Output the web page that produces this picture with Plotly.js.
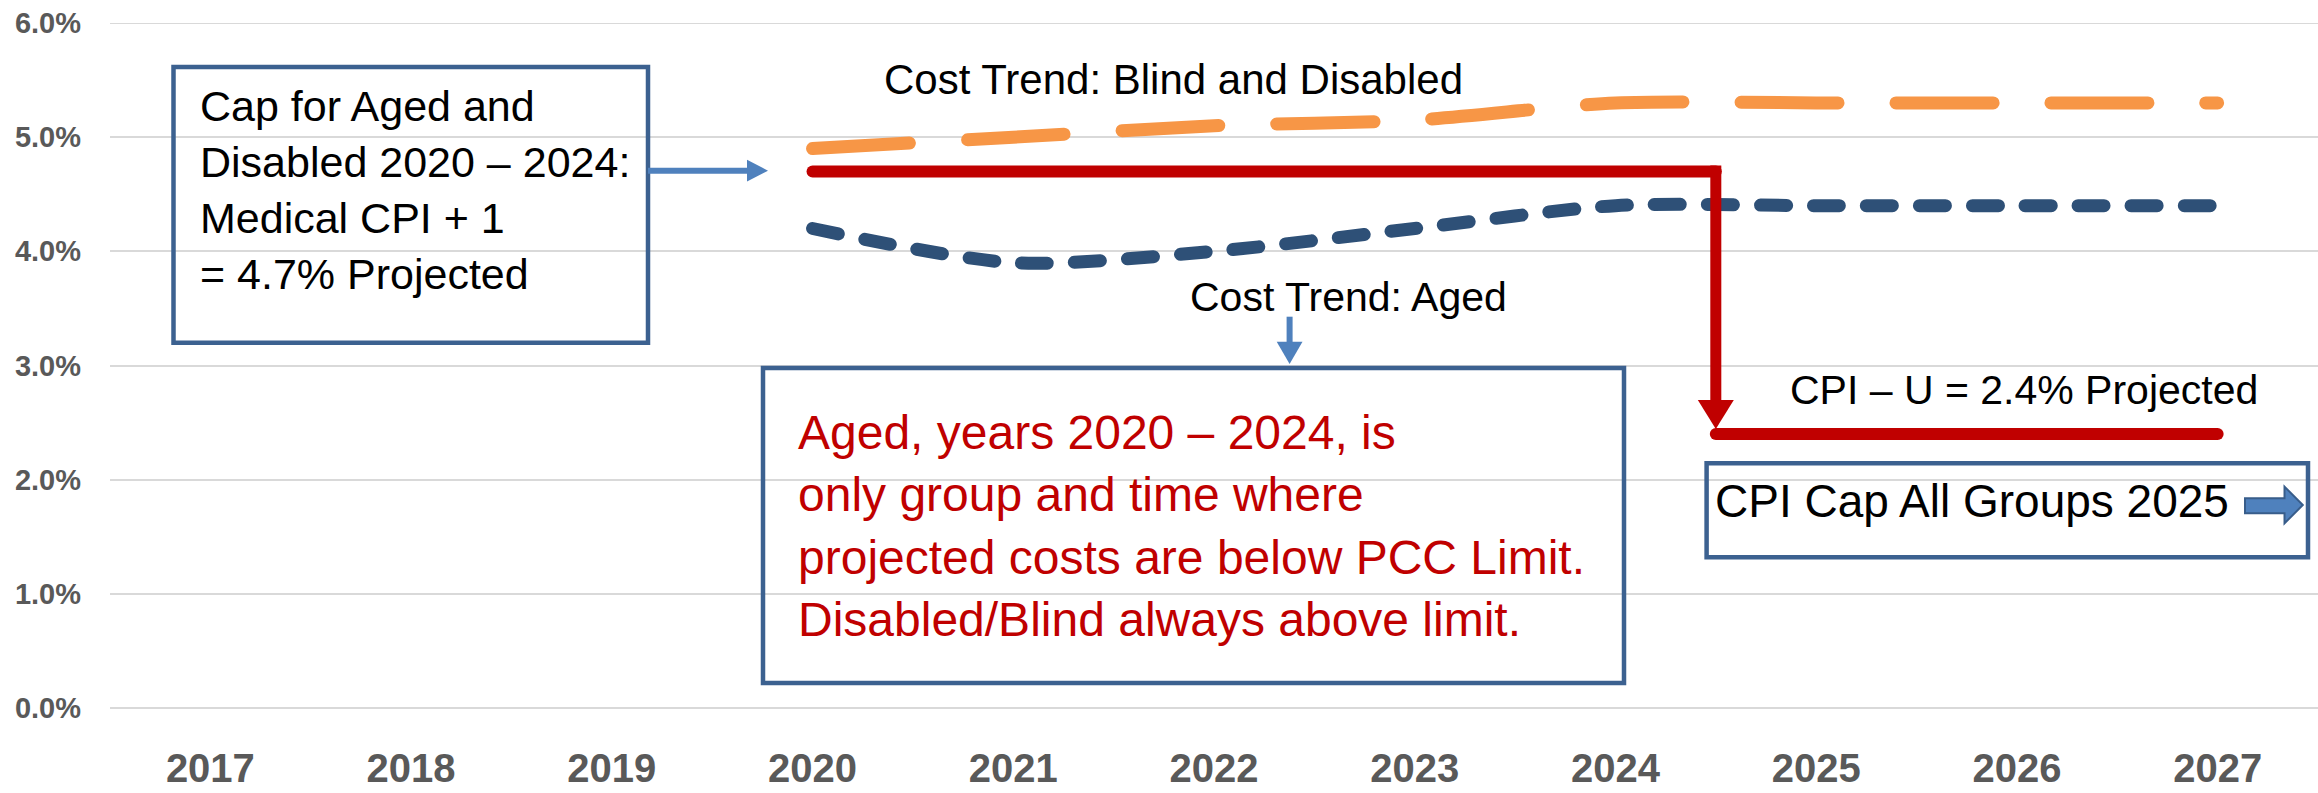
<!DOCTYPE html>
<html>
<head>
<meta charset="utf-8">
<script src="https://cdn.plot.ly/plotly-3.0.1.min.js"></script>
<style>
  html, body { margin: 0; padding: 0; background: #fff; }
  #chart { width: 2318px; height: 793px; }
  .js-line { stroke-linecap: round; stroke-linejoin: round; }
</style>
</head>
<body>
<div id="chart"></div>
<script>
// ---------- data ----------
const years = [2017, 2018, 2019, 2020, 2021, 2022, 2023, 2024, 2025, 2026, 2027];
const yearLabels = ['2017', '2018', '2019', '2020', '2021', '2022', '2023', '2024', '2025', '2026', '2027'];
const trendYears = [2020, 2021, 2022, 2023, 2024, 2025, 2026, 2027];
const costTrendBlindDisabled = [4.9, 5.0, 5.1, 5.15, 5.3, 5.3, 5.3, 5.3];
const costTrendAged = [4.2, 3.9, 4.0, 4.2, 4.4, 4.4, 4.4, 4.4];
const capSwitchYear = 2024.5;
const medicalCapYears = [2020, 2021, 2022, 2023, 2024, capSwitchYear];
const medicalCpiPlusOneCap = [4.7, 4.7, 4.7, 4.7, 4.7, 4.7];
const cpiYears = [capSwitchYear, 2025, 2026, 2027];
const cpiUCap = [2.4, 2.4, 2.4, 2.4];
const yTicks = [0, 1, 2, 3, 4, 5, 6];
const yTickLabels = ['0.0%', '1.0%', '2.0%', '3.0%', '4.0%', '5.0%', '6.0%'];

// ---------- geometry helpers (plot area in px) ----------
const W = 2318, H = 793;
const L = 110, R = 2318, T = 23, B = 708;
const X0 = 2016.5, X1 = 2027.5, Y0 = 0, Y1 = 6;
const px = v => (v - L) / (R - L);          // pixel x -> paper
const py = v => (B - v) / (B - T);          // pixel y -> paper
const dataToPxX = x => L + (x - X0) / (X1 - X0) * (R - L);
const dataToPxY = y => B - (y - Y0) / (Y1 - Y0) * (B - T);
const P = (x, y) => px(x).toFixed(5) + ',' + py(y).toFixed(5);

const RED = '#C00000', ORANGE = '#F79646', NAVY = '#2E5077';
const BOX = '#3C6190', ARROW = '#4F81BD', GRID = '#D9D9D9';
const FONT = 'Liberation Sans, Arial, sans-serif';

const traces = [
  { x: trendYears, y: costTrendBlindDisabled, type: 'scatter', mode: 'lines',
    line: { color: ORANGE, width: 13, dash: '97px,58px', shape: 'spline', smoothing: 0.8 },
    hoverinfo: 'skip' },
  { x: trendYears, y: costTrendAged, type: 'scatter', mode: 'lines',
    line: { color: NAVY, width: 13, dash: '26px,27px', shape: 'spline', smoothing: 0.8 },
    hoverinfo: 'skip' },
  { x: medicalCapYears, y: medicalCpiPlusOneCap, type: 'scatter', mode: 'lines',
    line: { color: RED, width: 12 }, hoverinfo: 'skip' },
  { x: cpiYears, y: cpiUCap, type: 'scatter', mode: 'lines',
    line: { color: RED, width: 12 }, hoverinfo: 'skip' }
];

// red step-down connector with arrowhead
const sx = dataToPxX(capSwitchYear);
const topY = dataToPxY(medicalCpiPlusOneCap[medicalCpiPlusOneCap.length - 1]) - 6;
const tipY = dataToPxY(cpiUCap[0]) - 5;
const baseY = tipY - 29;

const shapes = [
  // top gridline (6.0%) drawn explicitly at the plot edge
  { type: 'line', xref: 'paper', yref: 'y', x0: 0, x1: 1, y0: Y1, y1: Y1,
    line: { color: GRID, width: 2 }, layer: 'below' },
  // boxes
  { type: 'rect', xref: 'paper', yref: 'paper', x0: px(173.5), x1: px(648), y0: py(342.7), y1: py(67),
    line: { color: BOX, width: 4.5 }, fillcolor: 'rgba(0,0,0,0)' },
  { type: 'rect', xref: 'paper', yref: 'paper', x0: px(763), x1: px(1624), y0: py(683), y1: py(368),
    line: { color: BOX, width: 4.5 }, fillcolor: 'rgba(0,0,0,0)' },
  { type: 'rect', xref: 'paper', yref: 'paper', x0: px(1706.6), x1: px(2308), y0: py(557.3), y1: py(463.3),
    line: { color: BOX, width: 4.5 }, fillcolor: 'rgba(0,0,0,0)' },
  // arrow from box 1
  { type: 'line', xref: 'paper', yref: 'paper', x0: px(648), x1: px(749), y0: py(170.7), y1: py(170.7),
    line: { color: ARROW, width: 6 } },
  { type: 'path', xref: 'paper', yref: 'paper',
    path: 'M' + P(747, 159.8) + 'L' + P(768, 170.7) + 'L' + P(747, 181.6) + 'Z',
    fillcolor: ARROW, line: { width: 0 } },
  // arrow under "Cost Trend: Aged"
  { type: 'line', xref: 'paper', yref: 'paper', x0: px(1289.6), x1: px(1289.6), y0: py(316.7), y1: py(343),
    line: { color: ARROW, width: 6 } },
  { type: 'path', xref: 'paper', yref: 'paper',
    path: 'M' + P(1276.7, 341.7) + 'L' + P(1302.5, 341.7) + 'L' + P(1289.6, 364) + 'Z',
    fillcolor: ARROW, line: { width: 0 } },
  // red vertical connector + head
  { type: 'path', xref: 'paper', yref: 'paper',
    path: 'M' + P(sx, topY) + 'L' + P(sx, baseY + 1),
    line: { color: RED, width: 11 } },
  { type: 'path', xref: 'paper', yref: 'paper',
    path: 'M' + P(sx - 18, baseY) + 'L' + P(sx + 18, baseY) + 'L' + P(sx, tipY) + 'Z',
    fillcolor: RED, line: { width: 0 } },
  // block arrow in CPI box
  { type: 'path', xref: 'paper', yref: 'paper',
    path: 'M' + P(2245, 498.3) + 'L' + P(2284.5, 498.3) + 'L' + P(2284.5, 486.7) + 'L' + P(2302.8, 505) +
          'L' + P(2284.5, 523.3) + 'L' + P(2284.5, 513.3) + 'L' + P(2245, 513.3) + 'Z',
    fillcolor: ARROW, line: { color: '#385D8A', width: 2 } }
];

function note(text, x, yTop, size, color, anchor) {
  return { xref: 'paper', yref: 'paper', x: px(x), y: py(yTop), xanchor: anchor || 'left', yanchor: 'top',
    text: text, showarrow: false, align: anchor === 'center' ? 'center' : 'left',
    font: { family: FONT, size: size, color: color || '#000' } };
}

const annotations = [
  note('Cap for Aged and<br>Disabled 2020 \u2013 2024:<br>Medical CPI + 1<br>= 4.7% Projected', 198, 80, 43, '#000'),
  note('Aged, years 2020 \u2013 2024, is<br>only group and time where<br>projected costs are below PCC Limit.<br>Disabled/Blind always above limit.', 796, 404, 48, RED),
  note('CPI Cap All Groups 2025', 1713, 473, 46, '#000'),
  note('Cost Trend: Blind and Disabled', 1173.5, 54.3, 42, '#000', 'center'),
  note('Cost Trend: Aged', 1348.6, 272, 41, '#000', 'center'),
  note('CPI \u2013 U = 2.4% Projected', 2024.4, 365.2, 41, '#000', 'center')
];

const layout = {
  width: W, height: H,
  margin: { l: L, r: W - R, t: T, b: H - B, pad: 0 },
  paper_bgcolor: '#fff', plot_bgcolor: '#fff',
  showlegend: false,
  xaxis: {
    range: [X0, X1], tickmode: 'array', tickvals: years, ticktext: yearLabels,
    showgrid: false, zeroline: false, showline: false, ticks: '',
    ticklabelstandoff: 33,
    tickfont: { family: FONT, size: 40, color: '#595959', weight: 'bold' }
  },
  yaxis: {
    range: [Y0, Y1], tickmode: 'array', tickvals: yTicks, ticktext: yTickLabels,
    showgrid: true, gridcolor: GRID, gridwidth: 2,
    zeroline: true, zerolinecolor: GRID, zerolinewidth: 2, showline: false, ticks: '',
    ticklabelstandoff: 28,
    tickfont: { family: FONT, size: 29, color: '#595959', weight: 'bold' }
  },
  shapes: shapes,
  annotations: annotations
};

Plotly.newPlot('chart', traces, layout, { staticPlot: true, displayModeBar: false });
</script>
</body>
</html>
